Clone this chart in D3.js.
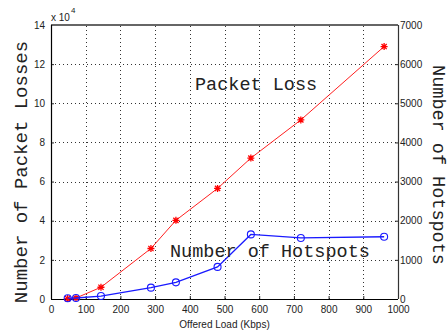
<!DOCTYPE html>
<html>
<head>
<meta charset="utf-8">
<script src="https://cdn.jsdelivr.net/npm/d3@7"></script>
<style>
  html, body { margin: 0; padding: 0; background: #fff; }
  svg { display: block; }
  .tick text { font-family: "Liberation Sans", Arial, sans-serif; font-size: 10px; fill: #222; }
</style>
</head>
<body>
<svg id="chart" width="447" height="333"></svg>
<script>
// Offered load (Kbps) for each run
const offeredLoad = [48, 72, 144, 288, 360, 480, 576, 720, 960];
// Packet losses, in units of 10^4
const packetLoss = [0.02, 0.05, 0.6, 2.58, 4.02, 5.65, 7.2, 9.15, 12.9];
// Number of hotspots
const hotspots = [20, 25, 75, 290, 425, 820, 1650, 1560, 1590];

const xTicks = [0, 100, 200, 300, 400, 500, 600, 700, 800, 900, 1000];
const leftTicks = [0, 2, 4, 6, 8, 10, 12, 14];
const rightTicks = [0, 1000, 2000, 3000, 4000, 5000, 6000, 7000];

const svg = d3.select("#chart");
const L = 51, R = 398, T = 25, B = 299;

const x = d3.scaleLinear().domain([0, 1000]).range([L, R]);
const yL = d3.scaleLinear().domain([0, 14]).range([B, T]);
const yR = d3.scaleLinear().domain([0, 7000]).range([B, T]);

// dotted grid
const grid = svg.append("g").attr("stroke", "#333").attr("stroke-width", 1)
  .attr("stroke-dasharray", "1,3").attr("shape-rendering", "crispEdges");
xTicks.slice(1, -1).forEach(v => {
  grid.append("line").attr("x1", Math.round(x(v)) + 0.5).attr("x2", Math.round(x(v)) + 0.5)
    .attr("y1", B).attr("y2", T);
});
leftTicks.slice(1, -1).forEach(v => {
  grid.append("line").attr("y1", Math.round(yL(v)) + 0.5).attr("y2", Math.round(yL(v)) + 0.5)
    .attr("x1", L).attr("x2", R);
});

// axes with inward ticks
const xAxis = svg.append("g").attr("transform", `translate(0,${B})`)
  .call(d3.axisBottom(x).tickValues(xTicks).tickSize(-3).tickPadding(7).tickFormat(d3.format("d")));
const yAxisL = svg.append("g").attr("transform", `translate(${L},0)`)
  .call(d3.axisLeft(yL).tickValues(leftTicks).tickSize(-3).tickPadding(6).tickFormat(d3.format("d")));
const yAxisR = svg.append("g").attr("transform", `translate(${R},0)`)
  .call(d3.axisRight(yR).tickValues(rightTicks).tickSize(-3).tickPadding(2).tickFormat(d3.format("d")));
[xAxis, yAxisL, yAxisR].forEach(g => {
  g.select(".domain").remove();
  g.selectAll(".tick line").attr("stroke", "#222");
});

// frame
svg.append("line").attr("x1", L).attr("x2", R).attr("y1", T).attr("y2", T)
  .attr("stroke", "#666").attr("stroke-width", 2);
svg.append("line").attr("x1", L).attr("x2", R).attr("y1", B + 0.5).attr("y2", B + 0.5)
  .attr("stroke", "#000").attr("stroke-width", 1.2);
svg.append("line").attr("x1", L + 0.5).attr("x2", L + 0.5).attr("y1", T).attr("y2", B)
  .attr("stroke", "#000").attr("stroke-width", 1.2);
svg.append("line").attr("x1", R + 0.5).attr("x2", R + 0.5).attr("y1", T).attr("y2", B)
  .attr("stroke", "#333").attr("stroke-width", 1.2);

// packet loss series (red, asterisk markers)
const lossLine = d3.line().x((d, i) => x(offeredLoad[i])).y(d => yL(d));
svg.append("path").datum(packetLoss).attr("d", lossLine)
  .attr("fill", "none").attr("stroke", "#ff2020").attr("stroke-width", 1);
const star = "M-3.5,0H3.5M0,-3.5V3.5M-2.6,-2.6L2.6,2.6M-2.6,2.6L2.6,-2.6";
svg.append("g").selectAll("path").data(packetLoss).join("path")
  .attr("transform", (d, i) => `translate(${x(offeredLoad[i])},${yL(d)})`)
  .attr("d", star).attr("stroke", "#ff0000").attr("stroke-width", 1.3).attr("fill", "none");

// hotspot series (blue, circle markers)
const hotLine = d3.line().x((d, i) => x(offeredLoad[i])).y(d => yR(d));
svg.append("path").datum(hotspots).attr("d", hotLine)
  .attr("fill", "none").attr("stroke", "#1a1aff").attr("stroke-width", 1.3);
svg.append("g").selectAll("circle").data(hotspots).join("circle")
  .attr("cx", (d, i) => x(offeredLoad[i])).attr("cy", d => yR(d)).attr("r", 3.5)
  .attr("fill", "none").attr("stroke", "#1a1aff").attr("stroke-width", 1.1);

// exponent note above left axis
svg.append("text").attr("x", 51).attr("y", 21)
  .attr("font-family", "Liberation Sans, Arial, sans-serif").attr("font-size", 10).attr("fill", "#222")
  .text("x 10");
svg.append("text").attr("x", 71).attr("y", 13)
  .attr("font-family", "Liberation Sans, Arial, sans-serif").attr("font-size", 8).attr("fill", "#222")
  .text("4");

// axis titles
const mono = "Liberation Mono, Courier New, monospace";
svg.append("text").attr("transform", `translate(27,172) rotate(-90)`)
  .attr("text-anchor", "middle").attr("font-family", mono).attr("font-size", 19).attr("fill", "#222")
  .text("Number of Packet Losses");
svg.append("text").attr("transform", `translate(433,165) rotate(90)`)
  .attr("text-anchor", "middle").attr("font-family", mono).attr("font-size", 18.5).attr("fill", "#222")
  .text("Number of Hotspots");
svg.append("text").attr("x", (L + R) / 2).attr("y", 328)
  .attr("text-anchor", "middle").attr("font-family", "Liberation Sans, Arial, sans-serif")
  .attr("font-size", 10).attr("fill", "#222").text("Offered Load (Kbps)");

// series annotations
svg.append("text").attr("x", 195).attr("y", 90).attr("font-family", mono).attr("fill", "#222")
  .attr("font-size", 18.5).text("Packet Loss");
svg.append("text").attr("x", 170).attr("y", 256.5).attr("font-family", mono).attr("fill", "#222")
  .attr("font-size", 18.5).text("Number of Hotspots");
</script>
</body>
</html>
